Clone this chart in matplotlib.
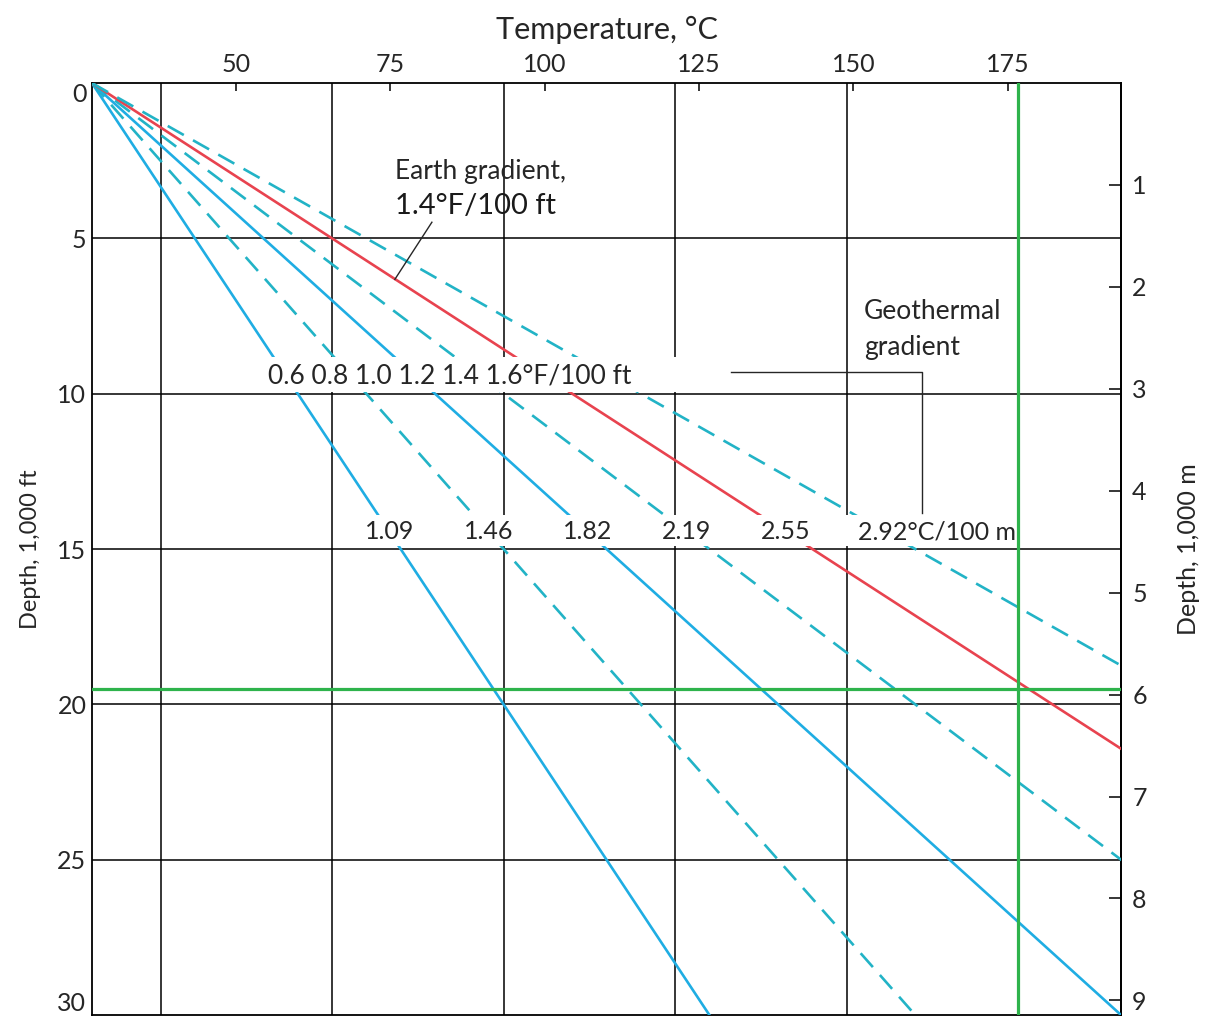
import numpy as np
import matplotlib
matplotlib.use("Agg")
import matplotlib.pyplot as plt
from matplotlib.patches import Rectangle

plt.rcParams['font.family'] = ['Lato', 'DejaVu Sans']

# DATA
SURFACE_F = 80                                  # surface temperature, °F
GRAD_F = [0.6, 0.8, 1.0, 1.2, 1.4, 1.6]         # °F/100 ft
GRAD_C = ["1.09", "1.46", "1.82", "2.19", "2.55", "2.92"]  # °C/100 m
STYLES = ["solid", "dashed", "solid", "dashed", "earth", "dashed"]
C_TICKS = [50, 75, 100, 125, 150, 175]
F_GRID = [100, 150, 200, 250, 300]
DEPTH_TICKS = [0, 5, 10, 15, 20, 25, 30]        # 1,000 ft
M_TICKS = [1, 2, 3, 4, 5, 6, 7, 8, 9]           # 1,000 m
TARGET_T_F = 350
TARGET_DEPTH = 19.5
X_LIM = (80, 380)
MAX_DEPTH = 30

BLUE = "#1fadE3"
TEAL = "#22b3c6"
RED = "#e8434f"
GREEN = "#2eb34c"
TXT = "#262626"

def c2f(c):
    return np.asarray(c) * 9 / 5 + 32

fig = plt.figure(figsize=(12.13, 10.19), dpi=100)
ax = fig.add_axes([0.0758, 0.0039, 0.8484, 0.9146])
ax.set_xlim(*X_LIM)
ax.set_ylim(MAX_DEPTH, 0)

# grid
for f in F_GRID:
    ax.axvline(f, color="black", lw=1.1, zorder=1)
for d in DEPTH_TICKS[1:-1]:
    ax.axhline(d, color="black", lw=1.1, zorder=1)

# gradient lines
depth = np.array([0, MAX_DEPTH])
for g, st in zip(GRAD_F, STYLES):
    temp = SURFACE_F + g * depth * 10
    if st == "earth":
        ax.plot(temp, depth, color=RED, lw=1.9, zorder=3)
    elif st == "dashed":
        ax.plot(temp, depth, color=TEAL, lw=1.9, dashes=(7, 4), zorder=3)
    else:
        ax.plot(temp, depth, color=BLUE, lw=1.9, zorder=3)

# white strips behind label rows
ax.add_patch(Rectangle((130.4, 8.83), 266 - 130.4, 1.1, facecolor="white",
                       edgecolor="none", zorder=4))
ax.add_patch(Rectangle((156.7, 13.89), 347.6 - 156.7, 1.02, facecolor="white",
                       edgecolor="none", zorder=4))

# target lines
ax.axvline(TARGET_T_F, color=GREEN, lw=2.3, zorder=5)
ax.axhline(TARGET_DEPTH, color=GREEN, lw=2.3, zorder=5)

fs = 18
ax.text(131.3, 9.44, "0.6 0.8 1.0 1.2 1.4 1.6°F/100 ft", fontsize=fs + 1,
        ha="left", va="center", color=TXT, zorder=6)

row_d = 14.45
for i, (g, lab) in enumerate(zip(GRAD_F, GRAD_C)):
    x = SURFACE_F + g * row_d * 10
    if i == len(GRAD_F) - 1:
        ax.text(x - 8, row_d, lab + "°C/100 m", fontsize=fs, ha="left",
                va="center", color=TXT, zorder=6)
    else:
        ax.text(x, row_d, lab, fontsize=fs, ha="center", va="center",
                color=TXT, zorder=6)

ax.text(168.3, 2.84, "Earth gradient,", fontsize=19, ha="left", va="center",
        color=TXT, zorder=6)
ax.text(168.3, 3.96, "1.4°F/100 ft", fontsize=21, ha="left", va="center",
        color="#1a1a1a", zorder=6)
ax.plot([179.1, 168.3], [4.48, 6.32], color=TXT, lw=1.0, zorder=6)

ax.text(305.1, 7.35, "Geothermal", fontsize=19, ha="left", va="center",
        color=TXT, zorder=6)
ax.text(305.1, 8.5, "gradient", fontsize=19, ha="left", va="center",
        color=TXT, zorder=6)
ax.plot([266.3, 322, 322], [9.31, 9.31, 13.83], color=TXT, lw=1.0, zorder=6)

# axes / ticks
for s in ax.spines.values():
    s.set_linewidth(1.3)
ax.xaxis.tick_top()
ax.set_xticks(c2f(C_TICKS))
ax.set_xticklabels([str(c) for c in C_TICKS])
ax.tick_params(axis="x", direction="in", length=6, width=1.1, pad=5,
               labelsize=fs, labelcolor=TXT)
ax.set_yticks(DEPTH_TICKS)
ax.tick_params(axis="y", length=0, pad=4, labelsize=fs, labelcolor=TXT)
ylabs = ax.get_yticklabels()
ylabs[0].set_va("top")
ylabs[-1].set_va("bottom")
ax.set_xlabel("Temperature, °C", fontsize=22, color=TXT, labelpad=10)
ax.xaxis.set_label_position("top")
ax.set_ylabel("Depth, 1,000 ft", fontsize=17, color=TXT, labelpad=12)

sec = ax.secondary_yaxis("right", functions=(lambda d: d * 0.3048,
                                             lambda m: m / 0.3048))
sec.set_yticks(M_TICKS)
sec.tick_params(direction="in", length=9, width=1.1, pad=8, labelsize=fs,
                labelcolor=TXT)
sec.spines["right"].set_linewidth(1.3)
sec.set_ylabel("Depth, 1,000 m", fontsize=18, color=TXT, labelpad=22)

fig.savefig("out.png", dpi=100)
